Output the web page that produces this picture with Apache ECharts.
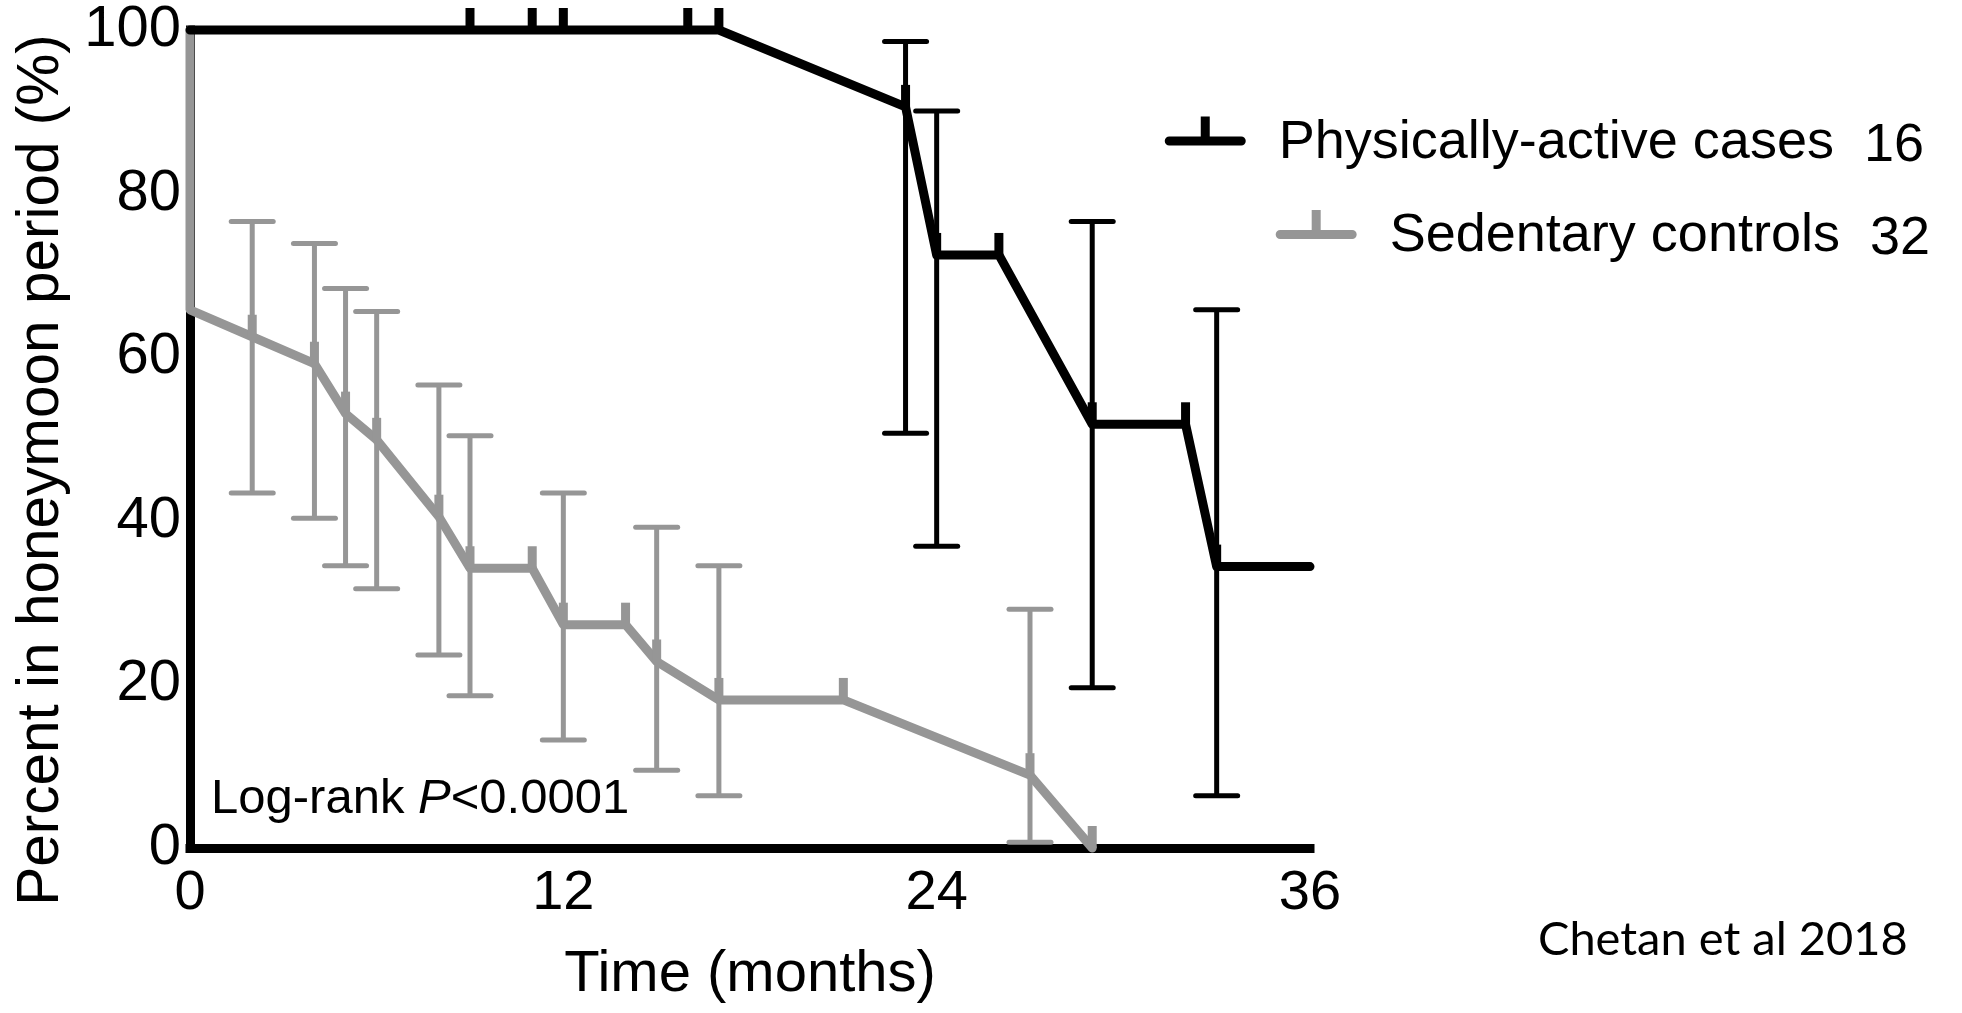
<!DOCTYPE html>
<html>
<head>
<meta charset="utf-8">
<script src="https://cdn.jsdelivr.net/npm/echarts@6/dist/echarts.min.js"></script>
<style>
  html, body { margin: 0; padding: 0; background: #fff; }
  #chart { width: 1962px; height: 1013px; }
</style>
</head>
<body>
<div id="chart"></div>
<script>
// ---------------- data ----------------
const xTicks = [0, 12, 24, 36];
const yTicks = [0, 20, 40, 60, 80, 100];
const seriesNames = ['Physically-active cases', 'Sedentary controls'];
const seriesCounts = [16, 32];
const xTitle = 'Time (months)';
const yTitle = 'Percent in honeymoon period (%)';
const noteText = ['Log-rank ', 'P', '<0.0001'];
const sourceText = 'Chetan et al 2018';

// Physically-active cases (Kaplan-Meier points)
const activeTime = [0, 9, 11, 12, 16, 17, 23, 24, 26, 29, 32, 33, 36];
const activeSurv = [100, 100, 100, 100, 100, 100, 90.6, 72.5, 72.5, 51.8, 51.8, 34.4, 34.4];
const activeTick = [0, 1, 1, 1, 1, 1, 1, 1, 1, 1, 1, 1, 0];
// error bars
const activeErrTime = [23, 24, 29, 33];
const activeErrHigh = [98.6, 90.1, 76.6, 65.8];
const activeErrLow = [50.7, 36.9, 19.6, 6.4];

// Sedentary controls
const controlTime = [0, 0, 2, 4, 5, 6, 8, 9, 11, 12, 14, 15, 17, 21, 27, 29];
const controlSurv = [100, 65.8, 62.5, 59.2, 53.1, 49.9, 40.5, 34.2, 34.2, 27.3, 27.3, 22.8, 18.1, 18.1, 8.9, 0];
const controlTick = [0, 0, 1, 1, 1, 1, 1, 1, 1, 1, 1, 1, 1, 1, 1, 1];
const controlErrTime = [2, 4, 5, 6, 8, 9, 12, 15, 17, 27];
const controlErrHigh = [76.6, 73.9, 68.4, 65.6, 56.6, 50.4, 43.4, 39.2, 34.5, 29.2];
const controlErrLow = [43.4, 40.3, 34.5, 31.7, 23.6, 18.6, 13.2, 9.5, 6.4, 0.7];

// ---------------- styling ----------------
const FONT = '"Liberation Sans", Arial, Helvetica, sans-serif';
const BLACK = '#000000';
const GREY = '#969696';
const LEGEND_ICON = 'path://M4.5,20 L76.5,20 A4.5,4.5 0 0 1 76.5,29 L4.5,29 A4.5,4.5 0 0 1 4.5,20 Z M36,0 L45,0 L45,20 L36,20 Z';

function lineSeries(name, times, surv, ticks, color, z) {
  return {
    type: 'line',
    name: name,
    data: times.map((t, i) => ({ value: [t, surv[i]], symbol: ticks[i] ? 'rect' : 'none' })),
    symbol: 'rect',
    symbolSize: [9, 22],
    symbolOffset: [0, -11],
    showSymbol: true,
    showAllSymbol: true,
    color: color,
    itemStyle: { color: color },
    lineStyle: { color: color, width: 9, cap: 'round', join: 'round' },
    clip: false,
    silent: true,
    animation: false,
    z: z
  };
}

function errorSeries(name, times, lows, highs, color, z) {
  return {
    type: 'custom',
    name: name,
    data: times.map((t, i) => [t, lows[i], highs[i]]),
    encode: { x: 0, y: [1, 2] },
    clip: false,
    silent: true,
    animation: false,
    z: z,
    renderItem: function (params, api) {
      const x = api.value(0);
      const lo = api.coord([x, api.value(1)]);
      const hi = api.coord([x, api.value(2)]);
      const hw = 21;
      const capStyle = { stroke: color, lineWidth: 5, lineCap: 'round' };
      return {
        type: 'group',
        children: [
          { type: 'line', shape: { x1: hi[0], y1: hi[1], x2: lo[0], y2: lo[1] }, style: { stroke: color, lineWidth: 5 } },
          { type: 'line', shape: { x1: hi[0] - hw, y1: hi[1], x2: hi[0] + hw, y2: hi[1] }, style: capStyle },
          { type: 'line', shape: { x1: lo[0] - hw, y1: lo[1], x2: lo[0] + hw, y2: lo[1] }, style: capStyle }
        ]
      };
    }
  };
}

function legendFor(idx, top, right, padTop) {
  return {
    data: [seriesNames[idx]],
    top: top,
    right: right,
    orient: 'horizontal',
    padding: 0,
    itemWidth: 81,
    itemHeight: 29,
    icon: LEGEND_ICON,
    selectedMode: false,
    formatter: function (name) {
      return '{n|' + name + '}{c|' + seriesCounts[seriesNames.indexOf(name)] + '}';
    },
    textStyle: {
      rich: {
        n: { fontFamily: FONT, fontSize: 54, color: '#000', lineHeight: 62, padding: [padTop, 0, 0, 28] },
        c: { fontFamily: FONT, fontSize: 54, color: '#000', lineHeight: 62, padding: [padTop + 6, 0, 0, 30] }
      }
    }
  };
}

const chart = echarts.init(document.getElementById('chart'), null, { renderer: 'canvas' });

const option = {
  backgroundColor: '#ffffff',
  animation: false,
  grid: { left: 190, right: 652, top: 30, bottom: 165, containLabel: false },
  xAxis: {
    type: 'value',
    min: xTicks[0],
    max: xTicks[xTicks.length - 1],
    interval: xTicks[1] - xTicks[0],
    name: xTitle,
    nameLocation: 'middle',
    nameGap: 96,
    nameTextStyle: { fontFamily: FONT, fontSize: 58, color: '#000', lineHeight: 62 },
    axisLine: { show: true, onZero: false, lineStyle: { color: '#000', width: 9, cap: 'square' } },
    axisTick: { show: false },
    splitLine: { show: false },
    axisLabel: {
      show: true, margin: 16, fontFamily: FONT, fontSize: 56, color: '#000', lineHeight: 60,
      showMinLabel: true, showMaxLabel: true,
      formatter: v => (xTicks.includes(v) ? String(v) : '')
    }
  },
  yAxis: {
    type: 'value',
    min: yTicks[0],
    max: yTicks[yTicks.length - 1],
    interval: yTicks[1] - yTicks[0],
    axisLine: { show: true, onZero: false, lineStyle: { color: '#000', width: 9, cap: 'square' } },
    axisTick: { show: false },
    splitLine: { show: false },
    axisLabel: {
      show: true, margin: 9, fontFamily: FONT, fontSize: 58, color: '#000',
      showMinLabel: true, showMaxLabel: true,
      formatter: v => (yTicks.includes(v) ? String(v) : '')
    }
  },
  legend: [
    legendFor(0, 89, 38, 24),
    legendFor(1, 183, 32, 23)
  ],
  graphic: [
    {
      type: 'text', x: 42, y: 470, rotation: Math.PI / 2, silent: true,
      style: { text: yTitle, fontFamily: FONT, fontSize: 58.5, fill: '#000', align: 'center', verticalAlign: 'middle' }
    },
    {
      type: 'text', x: 211, y: 799, silent: true,
      style: {
        text: '{a|' + noteText[0] + '}{b|' + noteText[1] + '}{a|' + noteText[2] + '}',
        align: 'left', verticalAlign: 'middle',
        rich: {
          a: { fontFamily: FONT, fontSize: 49, fill: '#000', color: '#000' },
          b: { fontFamily: FONT, fontSize: 49, fontStyle: 'italic', fill: '#000', color: '#000' }
        }
      }
    },
    {
      type: 'text', x: 1538, y: 940, silent: true,
      style: { text: sourceText, fontFamily: 'Lato, "Open Sans", sans-serif', fontSize: 47, fill: '#000', align: 'left', verticalAlign: 'middle' }
    }
  ],
  series: [
    errorSeries('controls-err', controlErrTime, controlErrLow, controlErrHigh, GREY, 2),
    lineSeries(seriesNames[1], controlTime, controlSurv, controlTick, GREY, 3),
    errorSeries('active-err', activeErrTime, activeErrLow, activeErrHigh, BLACK, 4),
    lineSeries(seriesNames[0], activeTime, activeSurv, activeTick, BLACK, 5)
  ]
};

chart.setOption(option);
</script>
</body>
</html>
